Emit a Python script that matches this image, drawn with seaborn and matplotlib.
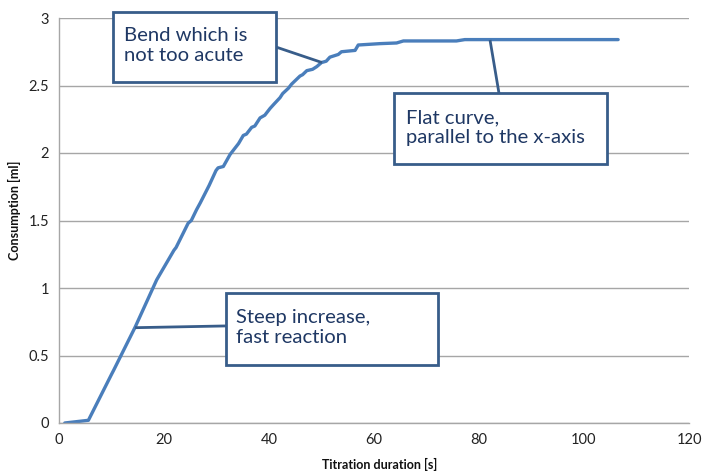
import matplotlib
matplotlib.use("Agg")
import matplotlib.pyplot as plt
import seaborn as sns
import pandas as pd
from matplotlib.patches import Rectangle

# ---- data ----
time_s = [1.1, 5.6, 10.0, 10.4, 14.5, 18.6, 19.2, 21.9, 22.3, 24.6, 25.2, 26.2, 26.9,
          28.6, 29.9, 30.3, 31.3, 32.6, 33.2, 34.2, 35.1, 35.7, 36.7, 37.3,
          38.3, 39.2, 40.2, 40.9, 42.1, 42.6, 43.7, 44.3, 45.9, 46.4, 47.2,
          48.3, 49.1, 50.0, 50.9, 51.6, 53.2, 53.8, 56.4, 57.0, 61.1, 64.3,
          65.6, 75.7, 77.3, 106.5]
consumption_ml = [0.0, 0.02, 0.36, 0.39, 0.71, 1.06, 1.10, 1.28, 1.30, 1.48, 1.50,
                  1.58, 1.63, 1.76, 1.87, 1.89, 1.90, 1.99, 2.02, 2.07, 2.13,
                  2.14, 2.19, 2.20, 2.26, 2.28, 2.33, 2.36, 2.41, 2.44, 2.48,
                  2.51, 2.57, 2.58, 2.61, 2.62, 2.64, 2.67, 2.68, 2.71, 2.73,
                  2.75, 2.76, 2.80, 2.81, 2.815, 2.83, 2.83, 2.84, 2.84]

x_ticks = [0, 20, 40, 60, 80, 100, 120]
y_ticks = [0, 0.5, 1, 1.5, 2, 2.5, 3]
y_tick_labels = ["0", "0.5", "1", "1.5", "2", "2.5", "3"]

notes = ["Bend which is\nnot too acute",
         "Flat curve,\nparallel to the x-axis",
         "Steep increase,\nfast reaction"]

df = pd.DataFrame({"Titration duration [s]": time_s,
                   "Consumption [ml]": consumption_ml})

sns.set_theme(style="white")
plt.rcParams["font.family"] = ["Lato", "DejaVu Sans"]

fig = plt.figure(figsize=(7.02, 4.71), dpi=100)
ax = fig.add_axes([59 / 702, 48 / 471, 630 / 702, 405 / 471])

line_color = "#4A7EBB"
sns.lineplot(data=df, x="Titration duration [s]", y="Consumption [ml]",
             ax=ax, color=line_color, linewidth=2.4, estimator=None, sort=False)

ax.set_xlim(0, 120)
ax.set_ylim(0, 3)
ax.set_xticks(x_ticks)
ax.set_yticks(y_ticks)
ax.set_yticklabels(y_tick_labels)
ax.yaxis.grid(True, color="#A6A6A6", linewidth=1.0)
ax.set_axisbelow(True)
for s in ["top", "right"]:
    ax.spines[s].set_visible(False)
for s in ["left", "bottom"]:
    ax.spines[s].set_color("#A6A6A6")
    ax.spines[s].set_linewidth(1.0)
ax.tick_params(axis="both", which="both", direction="out", length=4,
               color="#A6A6A6", labelsize=10.5, labelcolor="#222222", pad=3)

ax.set_xlabel("Titration duration [s]", fontsize=9, fontweight="bold",
              color="#111111")
ax.set_ylabel("Consumption [ml]", fontsize=9, fontweight="bold",
              color="#111111")
ax.xaxis.set_label_coords((380 - 59) / 630, -(458 - 423) / 405)
ax.yaxis.set_label_coords((21 - 59) / 630, (423 - 210) / 405)

box_edge = "#385D8A"
text_col = "#1F3864"

def note_box(x0, y0, x1, y1, tx, ty, text, start, end):
    ax.add_patch(Rectangle((x0, y0), x1 - x0, y1 - y0, facecolor="white",
                           edgecolor=box_edge, linewidth=2.0, zorder=5,
                           clip_on=False))
    ax.text(tx, ty, text, ha="left", va="center", fontsize=14.6,
            color=text_col, linespacing=1.2, zorder=6, clip_on=False)
    ax.plot([start[0], end[0]], [start[1], end[1]], color=box_edge,
            linewidth=2.0, zorder=4, solid_capstyle="butt", clip_on=False)

note_box(10.29, 2.526, 41.33, 3.044, 12.38, 2.796, notes[0],
         (41.33, 2.785), (50.1, 2.67))
note_box(63.81, 1.919, 104.38, 2.444, 66.1, 2.189, notes[1],
         (83.8, 2.444), (82.1, 2.837))
note_box(31.81, 0.430, 72.19, 0.963, 33.71, 0.705, notes[2],
         (31.81, 0.719), (14.5, 0.706))

fig.savefig("out.png", dpi=100)
